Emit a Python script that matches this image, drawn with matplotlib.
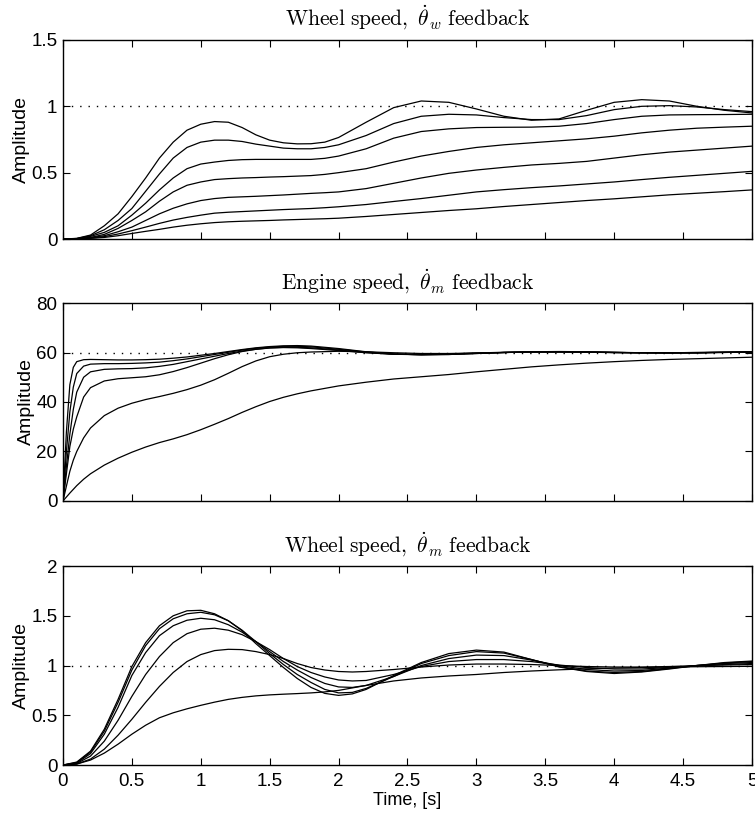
import matplotlib
matplotlib.use("Agg")
import matplotlib.pyplot as plt

plt.rcParams['font.family'] = ['Liberation Sans', 'DejaVu Sans']
plt.rcParams['mathtext.fontset'] = 'cm'

# ---- Wheel speed, theta_w feedback ----
t_wheel_w = [0, 0.1, 0.2, 0.3, 0.4, 0.5, 0.6, 0.7, 0.8, 0.9, 1.0, 1.1, 1.2, 1.3, 1.4, 1.5,
             1.6, 1.7, 1.8, 1.9, 2.0, 2.2, 2.4, 2.6, 2.8, 3.0, 3.2, 3.4, 3.6, 3.8, 4.0, 4.2,
             4.4, 4.6, 4.8, 5.0]
wheel_w_1 = [0, 0.005, 0.03, 0.10, 0.19, 0.32, 0.46, 0.61, 0.73, 0.82, 0.865, 0.885, 0.88,
             0.84, 0.785, 0.745, 0.725, 0.717, 0.718, 0.73, 0.765, 0.88, 0.99, 1.04, 1.03,
             0.98, 0.925, 0.895, 0.905, 0.97, 1.03, 1.05, 1.04, 1.0, 0.97, 0.95]
wheel_w_2 = [0, 0.004, 0.025, 0.07, 0.14, 0.23, 0.36, 0.49, 0.61, 0.69, 0.73, 0.745, 0.745,
             0.735, 0.715, 0.70, 0.685, 0.68, 0.68, 0.69, 0.71, 0.78, 0.87, 0.925, 0.94,
             0.935, 0.915, 0.90, 0.90, 0.93, 0.975, 1.0, 1.005, 0.995, 0.975, 0.96]
wheel_w_3 = [0, 0.003, 0.02, 0.05, 0.10, 0.18, 0.27, 0.37, 0.46, 0.53, 0.565, 0.58, 0.592,
             0.598, 0.60, 0.60, 0.60, 0.60, 0.60, 0.608, 0.625, 0.68, 0.76, 0.81, 0.83, 0.84,
             0.842, 0.843, 0.85, 0.87, 0.90, 0.925, 0.935, 0.937, 0.938, 0.94]
wheel_w_4 = [0, 0.002, 0.012, 0.035, 0.08, 0.14, 0.205, 0.285, 0.355, 0.405, 0.43, 0.448,
             0.455, 0.46, 0.463, 0.467, 0.47, 0.474, 0.478, 0.487, 0.50, 0.53, 0.58, 0.625,
             0.66, 0.69, 0.71, 0.725, 0.74, 0.755, 0.775, 0.80, 0.82, 0.835, 0.843, 0.85]
wheel_w_5 = [0, 0.002, 0.01, 0.025, 0.055, 0.09, 0.14, 0.19, 0.232, 0.265, 0.29, 0.305,
             0.314, 0.318, 0.322, 0.327, 0.332, 0.338, 0.344, 0.349, 0.355, 0.38, 0.42, 0.46,
             0.495, 0.52, 0.54, 0.558, 0.57, 0.585, 0.61, 0.635, 0.655, 0.67, 0.685, 0.70]
wheel_w_6 = [0, 0.001, 0.007, 0.018, 0.038, 0.063, 0.09, 0.118, 0.143, 0.163, 0.18, 0.195,
             0.202, 0.207, 0.212, 0.217, 0.222, 0.226, 0.23, 0.236, 0.243, 0.26, 0.283, 0.305,
             0.33, 0.355, 0.372, 0.387, 0.40, 0.415, 0.43, 0.448, 0.465, 0.48, 0.495, 0.51]
wheel_w_7 = [0, 0.001, 0.005, 0.012, 0.025, 0.042, 0.058, 0.073, 0.09, 0.104, 0.115, 0.124,
             0.13, 0.134, 0.137, 0.14, 0.144, 0.147, 0.15, 0.153, 0.157, 0.17, 0.185, 0.2,
             0.215, 0.228, 0.245, 0.26, 0.275, 0.29, 0.303, 0.318, 0.333, 0.345, 0.357, 0.37]

# ---- Engine speed, theta_m feedback ----
t_engine = [0, 0.025, 0.05, 0.075, 0.1, 0.15, 0.2, 0.3, 0.4, 0.5, 0.6, 0.7, 0.8, 0.9, 1.0,
            1.1, 1.2, 1.3, 1.4, 1.5, 1.6, 1.7, 1.8, 2.0, 2.2, 2.4, 2.6, 2.8, 3.0, 3.2, 3.4,
            3.6, 3.8, 4.0, 4.2, 4.4, 4.6, 4.8, 5.0]
engine_1 = [0, 28, 47, 54, 56.3, 57.1, 57.2, 57.1, 57.0, 57.0, 57.1, 57.3, 57.7, 58.2, 58.9,
            59.6, 60.4, 61.2, 61.9, 62.4, 62.7, 62.8, 62.6, 61.6, 60.3, 59.4, 59.1, 59.2,
            59.6, 60.0, 60.3, 60.4, 60.3, 60.1, 59.9, 59.8, 59.8, 60.0, 60.3]
engine_2 = [0, 20, 36, 46, 51.5, 54.5, 55.3, 55.5, 55.5, 55.6, 55.8, 56.1, 56.7, 57.4, 58.3,
            59.2, 60.1, 61.0, 61.7, 62.2, 62.5, 62.5, 62.3, 61.3, 60.2, 59.4, 59.1, 59.2,
            59.6, 60.0, 60.3, 60.3, 60.2, 60.0, 59.9, 59.8, 59.9, 60.1, 60.3]
engine_3 = [0, 14, 27, 37, 44, 50, 52.2, 53.2, 53.4, 53.5, 53.8, 54.4, 55.2, 56.3, 57.4,
            58.5, 59.6, 60.6, 61.3, 61.9, 62.1, 62.1, 61.9, 61.0, 60.0, 59.3, 59.1, 59.3,
            59.7, 60.0, 60.2, 60.3, 60.2, 60.0, 59.9, 59.9, 59.9, 60.1, 60.2]
engine_4 = [0, 11, 22, 29, 34, 42, 45.8, 48.5, 49.4, 49.8, 50.2, 51.0, 52.3, 53.9, 55.7,
            57.5, 59.1, 60.4, 61.3, 61.8, 62.0, 61.9, 61.6, 60.8, 59.9, 59.3, 59.2, 59.4,
            59.8, 60.1, 60.2, 60.2, 60.1, 60.0, 59.9, 59.9, 60.0, 60.1, 60.2]
engine_5 = [0, 6, 12, 16.5, 20, 25.5, 29.5, 34.5, 37.5, 39.5, 41.0, 42.2, 43.5, 45.0, 46.8,
            49.0, 51.6, 54.3, 56.6, 58.3, 59.3, 59.9, 60.2, 60.5, 60.3, 59.9, 59.6, 59.6,
            59.8, 60.0, 60.2, 60.2, 60.1, 60.0, 59.9, 59.9, 60.0, 60.1, 60.2]
engine_6 = [0, 1.6, 3.2, 4.7, 6.2, 8.8, 11.0, 14.5, 17.3, 19.7, 21.8, 23.6, 25.1, 26.8, 28.8,
            31.0, 33.3, 35.8, 38.1, 40.2, 41.9, 43.3, 44.5, 46.5, 48.0, 49.3, 50.2, 51.1,
            52.2, 53.2, 54.2, 55.0, 55.7, 56.3, 56.8, 57.2, 57.5, 57.8, 58.1]

# ---- Wheel speed, theta_m feedback ----
t_wheel_m = [0, 0.1, 0.2, 0.3, 0.4, 0.5, 0.6, 0.7, 0.8, 0.9, 1.0, 1.1, 1.2, 1.3, 1.4, 1.5,
             1.6, 1.7, 1.8, 1.9, 2.0, 2.1, 2.2, 2.4, 2.6, 2.8, 3.0, 3.2, 3.4, 3.6, 3.8, 4.0,
             4.2, 4.4, 4.6, 4.8, 5.0]
wheel_m_1 = [0, 0.03, 0.14, 0.36, 0.66, 0.99, 1.23, 1.40, 1.50, 1.55, 1.555, 1.52, 1.45,
             1.35, 1.22, 1.10, 0.98, 0.87, 0.78, 0.72, 0.70, 0.715, 0.76, 0.90, 1.03, 1.12,
             1.155, 1.135, 1.06, 0.985, 0.94, 0.92, 0.935, 0.965, 1.0, 1.03, 1.045]
wheel_m_2 = [0, 0.025, 0.13, 0.34, 0.63, 0.955, 1.20, 1.37, 1.47, 1.52, 1.535, 1.51, 1.45,
             1.355, 1.24, 1.12, 1.01, 0.91, 0.83, 0.76, 0.725, 0.73, 0.77, 0.89, 1.02, 1.10,
             1.14, 1.125, 1.06, 0.99, 0.945, 0.93, 0.94, 0.97, 1.0, 1.025, 1.04]
wheel_m_3 = [0, 0.02, 0.115, 0.31, 0.58, 0.90, 1.13, 1.30, 1.40, 1.455, 1.475, 1.46, 1.41,
             1.335, 1.24, 1.14, 1.04, 0.955, 0.88, 0.82, 0.785, 0.78, 0.80, 0.89, 1.0, 1.07,
             1.105, 1.10, 1.055, 1.0, 0.96, 0.945, 0.95, 0.975, 1.0, 1.02, 1.03]
wheel_m_4 = [0, 0.015, 0.09, 0.24, 0.45, 0.69, 0.91, 1.09, 1.23, 1.32, 1.365, 1.375, 1.355,
             1.31, 1.24, 1.16, 1.07, 0.99, 0.93, 0.885, 0.855, 0.845, 0.85, 0.91, 0.99, 1.04,
             1.06, 1.06, 1.04, 1.005, 0.98, 0.965, 0.965, 0.98, 0.995, 1.01, 1.02]
wheel_m_5 = [0, 0.01, 0.06, 0.16, 0.30, 0.46, 0.63, 0.79, 0.93, 1.04, 1.11, 1.15, 1.163,
             1.16, 1.14, 1.11, 1.07, 1.02, 0.98, 0.955, 0.94, 0.935, 0.94, 0.96, 0.985,
             1.005, 1.015, 1.015, 1.01, 1.0, 0.99, 0.985, 0.985, 0.99, 1.0, 1.005, 1.01]
wheel_m_6 = [0, 0.01, 0.05, 0.12, 0.21, 0.31, 0.40, 0.475, 0.525, 0.565, 0.60, 0.632, 0.66,
             0.68, 0.695, 0.705, 0.712, 0.718, 0.725, 0.735, 0.75, 0.775, 0.80, 0.845, 0.875,
             0.895, 0.91, 0.93, 0.945, 0.957, 0.967, 0.975, 0.98, 0.985, 0.988, 0.99, 0.992]

x_ticks = [0, 0.5, 1, 1.5, 2, 2.5, 3, 3.5, 4, 4.5, 5]
x_tick_labels = ['0', '0.5', '1', '1.5', '2', '2.5', '3', '3.5', '4', '4.5', '5']

panels = [
    dict(title=r'$\mathrm{Wheel\ speed,}\ \dot{\theta}_w\ \mathrm{feedback}$',
         t=t_wheel_w,
         series=[wheel_w_1, wheel_w_2, wheel_w_3, wheel_w_4, wheel_w_5, wheel_w_6, wheel_w_7],
         ref=1.0, ylim=(0, 1.5),
         yticks=[0, 0.5, 1, 1.5], ylabels=['0', '0.5', '1', '1.5'],
         rect=[0.0834, 0.7067, 0.9126, 0.2443]),
    dict(title=r'$\mathrm{Engine\ speed,}\ \dot{\theta}_m\ \mathrm{feedback}$',
         t=t_engine,
         series=[engine_1, engine_2, engine_3, engine_4, engine_5, engine_6],
         ref=60, ylim=(0, 80),
         yticks=[0, 20, 40, 60, 80], ylabels=['0', '20', '40', '60', '80'],
         rect=[0.0834, 0.3853, 0.9126, 0.2429]),
    dict(title=r'$\mathrm{Wheel\ speed,}\ \dot{\theta}_m\ \mathrm{feedback}$',
         t=t_wheel_m,
         series=[wheel_m_1, wheel_m_2, wheel_m_3, wheel_m_4, wheel_m_5, wheel_m_6],
         ref=1.0, ylim=(0, 2),
         yticks=[0, 0.5, 1, 1.5, 2], ylabels=['0', '0.5', '1', '1.5', '2'],
         rect=[0.0834, 0.0613, 0.9126, 0.2442]),
]

fig = plt.figure(figsize=(7.55, 8.15), dpi=100)

for i, p in enumerate(panels):
    ax = fig.add_axes(p['rect'])
    ax.plot([0, 5], [p['ref'], p['ref']], color='black', lw=1.0,
            linestyle=(0, (1, 5)))
    for s in p['series']:
        ax.plot(p['t'], s, color='black', lw=0.9)
    ax.set_xlim(0, 5)
    ax.set_ylim(*p['ylim'])
    ax.set_yticks(p['yticks'])
    ax.set_yticklabels(p['ylabels'])
    ax.set_xticks(x_ticks)
    if i == 2:
        ax.set_xticklabels(x_tick_labels)
        ax.set_xlabel('Time, [s]', fontsize=13, labelpad=1)
    else:
        ax.set_xticklabels([])
    ax.tick_params(direction='in', length=5, width=0.8, top=True, right=True,
                   labelsize=13.5, pad=4)
    ax.tick_params(axis='x', pad=6)
    for sp in ax.spines.values():
        sp.set_linewidth(1.0)
    ax.set_ylabel('Amplitude', fontsize=14, labelpad=1)
    ax.set_title(p['title'], fontsize=15.5, pad=10)

fig.savefig('out.png', dpi=100)
